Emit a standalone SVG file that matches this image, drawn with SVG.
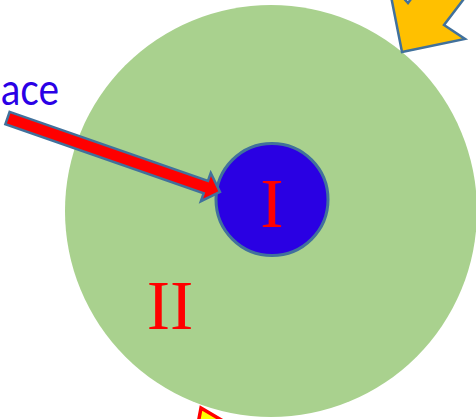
<svg xmlns="http://www.w3.org/2000/svg" width="476" height="419" viewBox="0 0 476 419">
<style>
.num{font-family:"Liberation Serif","Times New Roman",serif;font-size:70px;fill:#FF0000;text-anchor:middle}
.lbl{font-family:Lato,"Liberation Sans",Arial,sans-serif;font-size:45px;fill:#2A00E6}
.edge{stroke:#41719C;stroke-width:2.5;stroke-linejoin:miter}
</style>
<rect width="476" height="419" fill="#FFFFFF"/>
<g id="outer">
<circle cx="271" cy="211" r="206" fill="#A9D18E"/>
<text class="num" x="170" y="329">II</text>
</g>
<g id="inner">
<circle cx="272" cy="199.5" r="56" fill="#2A00E3" stroke="#41719C" stroke-width="3"/>
<text class="num" x="272" y="227">I</text>
</g>
<g id="label">
<text class="lbl" x="1" y="105" textLength="58" lengthAdjust="spacingAndGlyphs">ace</text>
</g>
<g id="connectors">
<polygon class="edge" fill="#FF0000" transform="translate(7.5,118) rotate(19.2)" points="0,-6.5 210,-6.5 210,-15 225,0 210,15 210,6.5 0,6.5"/>
<polygon class="edge" fill="#FFC000" points="402,52 465,39 444,25 492,-38 438,-37 408,3 388,-19"/>
<polygon fill="#FFFF00" stroke="#FF0000" stroke-width="3.5" points="201,408 240,431 195,440"/>
</g>
</svg>
